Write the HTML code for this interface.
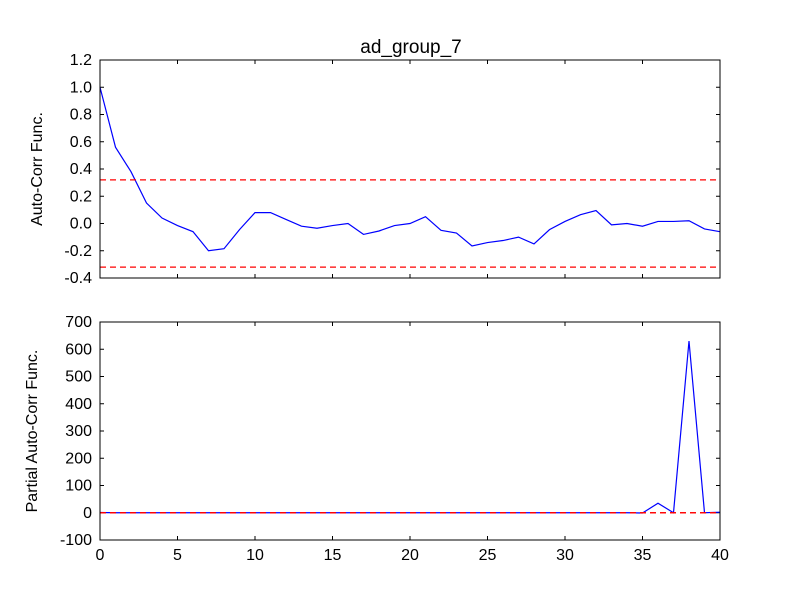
<!DOCTYPE html>
<html><head><meta charset="utf-8"><style>
body{margin:0;background:#fff;}
svg text{font-family:"Liberation Sans","DejaVu Sans",sans-serif;fill:#000;}
</style></head><body>
<svg id="chart" width="800" height="600" xmlns="http://www.w3.org/2000/svg"></svg>
<script>
const lags=[0,1,2,3,4,5,6,7,8,9,10,11,12,13,14,15,16,17,18,19,20,21,22,23,24,25,26,27,28,29,30,31,32,33,34,35,36,37,38,39,40];
const acfValues=[1.0,0.56,0.38,0.15,0.04,-0.015,-0.06,-0.20,-0.185,-0.045,0.08,0.08,0.03,-0.02,-0.035,-0.015,0.0,-0.08,-0.055,-0.015,0.0,0.05,-0.05,-0.07,-0.165,-0.14,-0.125,-0.10,-0.15,-0.045,0.015,0.065,0.095,-0.01,0.0,-0.02,0.015,0.015,0.02,-0.04,-0.06];
const pacfValues=[1,0,0,0,0,0,0,0,0,0,0,0,0,0,0,0,0,0,0,0,0,0,0,0,0,0,0,0,0,0,0,0,0,0,0,-1,35,0,630,0,2];
const confLevel=[0.32];
const acfTicks=[-0.4,-0.2,0.0,0.2,0.4,0.6,0.8,1.0,1.2];
const pacfTicks=[-100,0,100,200,300,400,500,600,700];
const xTicks=[0,5,10,15,20,25,30,35,40];
const NS="http://www.w3.org/2000/svg";
const svg=document.getElementById('chart');
function mk(t,a,p){const e=document.createElementNS(NS,t);for(const k in a)e.setAttribute(k,a[k]);(p||svg).appendChild(e);return e;}
const L=100,R=720;
const xS=v=>L+(v-0)/(40-0)*(R-L);
function panel(name,top,bot,ymin,ymax,ticks,vals,conf,ylabel,fmt,showX){
  const g=mk('g',{});
  
  
  const yS=v=>bot-(v-ymin)/(ymax-ymin)*(bot-top);
  ticks.forEach(t=>{
    const y=yS(t);
    const tk=mk('path',{d:`M${L} ${y}h4M${R} ${y}h-4`,stroke:'#000','stroke-width':1},g);
    
    
    const tx=mk('text',{x:L-8,y:y+5,'text-anchor':'end','font-size':16},g);
    
    
    tx.textContent=fmt(t);
  });
  xTicks.forEach(t=>{
    const x=xS(t);
    const tk=mk('path',{d:`M${x} ${bot}v-4M${x} ${top}v4`,stroke:'#000','stroke-width':1},g);
    
    
    if(showX){
      const tx=mk('text',{x:x,y:bot+20,'text-anchor':'middle','font-size':16},g);
      
      
      tx.textContent=t;
    }
  });
  const pl=mk('polyline',{points:lags.map((l,i)=>xS(l)+','+yS(vals[i])).join(' '),fill:'none',stroke:'#00f','stroke-width':1.2},g);
  
  
  conf.forEach(c=>{
    const ln=mk('line',{x1:L,x2:R,y1:yS(c),y2:yS(c),stroke:'#f00','stroke-width':1.2,'stroke-dasharray':'6,4'},g);
    
    
    const ln2=mk('line',{x1:L,x2:R,y1:yS(-c),y2:yS(-c),stroke:'#f00','stroke-width':1.2,'stroke-dasharray':'6,4'},g);
    
    
  });
  const fr=mk('rect',{x:L,y:top,width:R-L,height:bot-top,fill:'none',stroke:'#000','stroke-width':1},g);
  
  
  const yl=mk('text',{x:0,y:0,'text-anchor':'middle','font-size':16,transform:`translate(${name==='acf'?42:37},${(top+bot)/2}) rotate(-90)`},g);
  
  
  yl.textContent=ylabel;
}
panel('acf',60,278,-0.4,1.2,acfTicks,acfValues,confLevel,'Auto-Corr Func.',t=>t.toFixed(1),false);
panel('pacf',322,540,-100,700,pacfTicks,pacfValues,[0],'Partial Auto-Corr Func.',t=>String(t),true);
const title=mk('text',{x:411,y:53,'text-anchor':'middle','font-size':19});


title.textContent='ad_group_7';
</script>
</body></html>
